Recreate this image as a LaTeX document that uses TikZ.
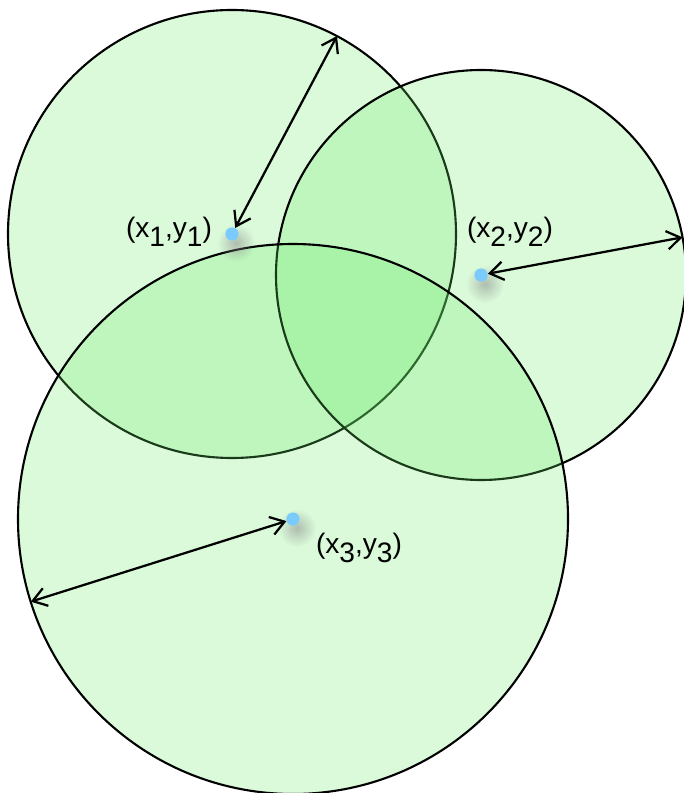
\documentclass[tikz,border=0pt]{standalone}
\usepackage{fontspec}
\setmainfont{Liberation Sans}
\usetikzlibrary{arrows.meta,calc,fadings}
\definecolor{zoneFill}{HTML}{6BEB6B}
\definecolor{siteBlue}{HTML}{7ACBFB}
\tikzfading[name=site halo, inner color=transparent!45, outer color=transparent!100]
\tikzset{
  zone/.style={fill=zoneFill, fill opacity=.25, draw=black, line width=1.5pt},
  range arrow/.style={
    draw=black,
    line width=1.6pt,
    {Straight Barb[length=3.4mm,width=4.6mm]}-{Straight Barb[length=3.4mm,width=4.6mm]}
  },
  site/.style={circle, fill=siteBlue, inner sep=0pt, minimum size=3.3mm},
  site halo/.style={fill=black!45, path fading=site halo},
  site label/.style={font=\fontsize{20}{24}\selectfont, text=black}
}
\newcommand{\sitename}[1]{(x\raisebox{-.6ex}{#1},y\raisebox{-.6ex}{#1})}

\begin{document}
\begin{tikzpicture}[x=0.025cm,y=-0.025cm]
  \useasboundingbox (0,0) rectangle (683,793);
  \coordinate (c1) at (232,234);
  \coordinate (c2) at (481,275);
  \coordinate (c3) at (293,519);

  % ranges
  \draw[zone] (c1) circle (224);
  \draw[zone] (c2) circle (205);
  \draw[zone] (c3) circle (275);

  % points on the rims
  \coordinate (e1) at (337,36);
  \coordinate (e2) at (682.5,237.3);
  \coordinate (e3) at (30.7,601.7);

  \fill[site halo] ($(c1)+(4,9)$) circle (19);
  \fill[site halo] ($(c2)+(4,9)$) circle (19);
  \fill[site halo] ($(c3)+(4,9)$) circle (19);

  \node[site] (s1) at (c1) {};
  \node[site] (s2) at (c2) {};
  \node[site] (s3) at (c3) {};

  \draw[range arrow] (s1) -- (e1);
  \draw[range arrow] (s2) -- (e2);
  \draw[range arrow] (s3) -- (e3);

  \node[site label] (l1) at (169,232) {\sitename{1}};
  \node[site label] (l2) at (510,232) {\sitename{2}};
  \node[site label] (l3) at (359,548) {\sitename{3}};
\end{tikzpicture}
\end{document}
